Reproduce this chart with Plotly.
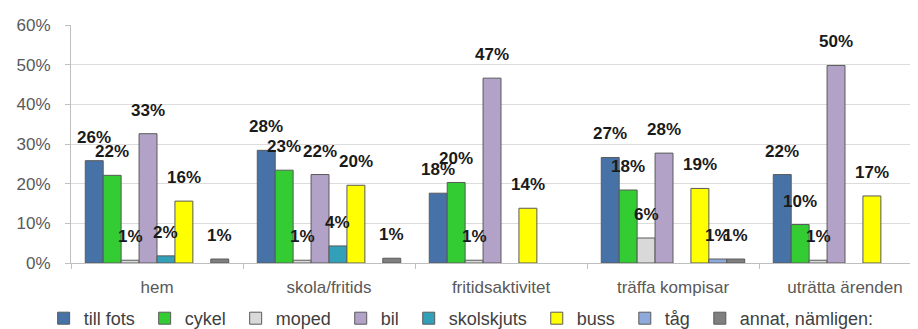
import plotly.graph_objects as go

categories = ["hem", "skola/fritids", "fritidsaktivitet", "träffa kompisar", "uträtta ärenden"]

series_names = ["till fots", "cykel", "moped", "bil", "skolskjuts", "buss", "tåg", "annat, nämligen:"]

till_fots = [25.8, 28.4, 17.6, 26.6, 22.3]
cykel = [22.1, 23.4, 20.3, 18.4, 9.7]
moped = [0.7, 0.7, 0.7, 6.3, 0.7]
bil = [32.6, 22.3, 46.6, 27.7, 49.8]
skolskjuts = [1.8, 4.3, None, None, None]
buss = [15.6, 19.6, 13.8, 18.8, 16.9]
tag = [None, None, None, 1.0, None]
annat = [1.0, 1.2, None, 1.0, None]

series_values = [till_fots, cykel, moped, bil, skolskjuts, buss, tag, annat]
series_colors = ["#4672A8", "#33CC33", "#D9D9D9", "#B3A2C7", "#31A0B8", "#FFFF00", "#8EA9DB", "#7F7F7F"]

y_ticks = [0, 10, 20, 30, 40, 50, 60]
y_tick_labels = [f"{t}%" for t in y_ticks]

BARGAP = 0.166
n = len(series_names)
bar_w = (1 - BARGAP) / n
NBSP = "\u00a0"

fig = go.Figure()
annotations = []
for j, (name, vals, col) in enumerate(zip(series_names, series_values, series_colors)):
    fig.add_trace(go.Bar(
        name=name + NBSP, x=categories, y=vals,
        marker=dict(color=col, line=dict(color="#5A5A5A", width=1)),
        hoverinfo="skip",
    ))
    off = -(1 - BARGAP) / 2 + (j + 0.5) * bar_w
    for i, v in enumerate(vals):
        if v is None:
            continue
        annotations.append(dict(
            x=i + off, y=v, xref="x", yref="y",
            text=f"{round(v)}%", showarrow=False,
            yanchor="bottom", xanchor="center", yshift=12,
            font=dict(family="Liberation Sans", size=17, color="#1A1A1A", weight="bold"),
        ))

fig.update_layout(
    barmode="group", bargap=BARGAP, bargroupgap=0,
    width=918, height=329,
    margin=dict(l=63, r=0, t=17, b=67),
    plot_bgcolor="white", paper_bgcolor="white",
    font=dict(family="Liberation Sans", color="#595959"),
    annotations=annotations,
    showlegend=True,
    legend=dict(
        orientation="h", x=-0.032, xanchor="left", y=-0.235, yanchor="middle",
        font=dict(family="Liberation Sans", size=18, color="#404040"),
        traceorder="normal", itemclick=False, itemdoubleclick=False,
    ),
    xaxis=dict(
        type="category", range=[-0.5, -0.5 + 855 / 172],
        showline=True, linecolor="#BFBFBF", linewidth=1,
        ticks="outside", tickson="boundaries", ticklen=5, tickcolor="#BFBFBF",
        tickfont=dict(size=17, color="#595959"),
        ticklabelstandoff=9,
        showgrid=False,
    ),
    yaxis=dict(
        range=[0, 60], tickvals=y_ticks, ticktext=y_tick_labels,
        showline=True, linecolor="#BFBFBF", linewidth=1,
        ticks="outside", ticklen=5, tickcolor="#BFBFBF",
        showgrid=True, gridcolor="#DCDCDC", gridwidth=1,
        tickfont=dict(size=17, color="#595959"),
        ticklabelstandoff=11,
        zeroline=False,
    ),
)

fig.write_html("out.html")
